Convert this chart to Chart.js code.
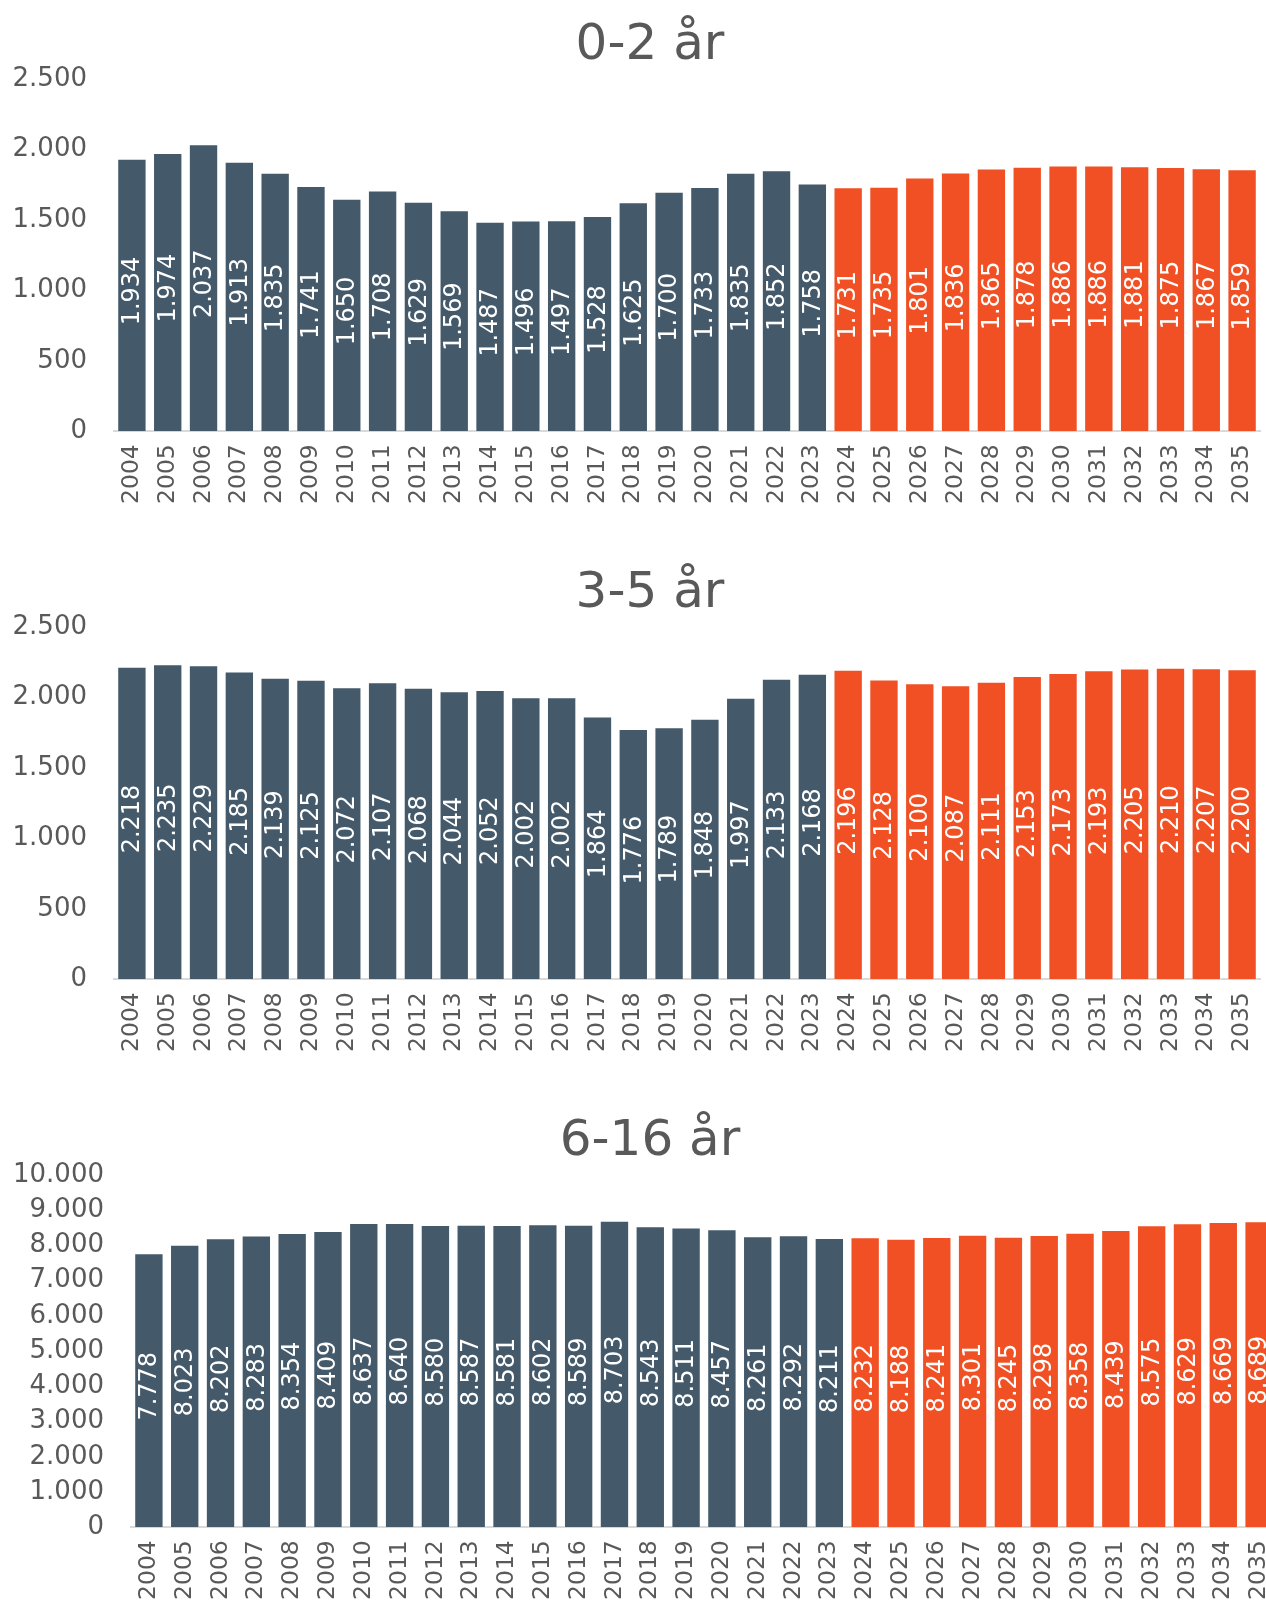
<!DOCTYPE html>
<html>
<head>
<meta charset="utf-8">
<script src="https://cdn.jsdelivr.net/npm/chart.js@4"></script>
<style>
  html, body { margin: 0; padding: 0; background: #fff; overflow: hidden; width: 1266px; height: 1602px; }
  .wrap { width: 1266px; height: 548px; overflow: hidden; position: relative; }
  canvas { display: block; }
</style>
</head>
<body>
<div class="wrap"><canvas id="c1" width="1266" height="548"></canvas></div>
<div class="wrap"><canvas id="c2" width="1266" height="548"></canvas></div>
<div class="wrap" style="height:506px"><canvas id="c3" width="1283" height="548"></canvas></div>
<script>
// ---- data ----
const years = ['2004','2005','2006','2007','2008','2009','2010','2011','2012','2013','2014','2015','2016','2017','2018','2019','2020','2021','2022','2023','2024','2025','2026','2027','2028','2029','2030','2031','2032','2033','2034','2035'];
const firstForecastYear = '2024';

const titles = ['0-2 år', '3-5 år', '6-16 år'];

const age0to2 = [1934,1974,2037,1913,1835,1741,1650,1708,1629,1569,1487,1496,1497,1528,1625,1700,1733,1835,1852,1758,1731,1735,1801,1836,1865,1878,1886,1886,1881,1875,1867,1859];
const age3to5 = [2218,2235,2229,2185,2139,2125,2072,2107,2068,2044,2052,2002,2002,1864,1776,1789,1848,1997,2133,2168,2196,2128,2100,2087,2111,2153,2173,2193,2205,2210,2207,2200];
const age6to16 = [7778,8023,8202,8283,8354,8409,8637,8640,8580,8587,8581,8602,8589,8703,8543,8511,8457,8261,8292,8211,8232,8188,8241,8301,8245,8298,8358,8439,8575,8629,8669,8689];

const yMax = [2500, 2500, 10000];
const yStep = [500, 500, 1000];

// ---- style ----
const histColor = '#44596A';
const foreColor = '#F05023';
const textColor = '#595959';
const fontFamily = '"DejaVu Sans", Verdana, sans-serif';
const titleCenterX = 650;

function fmt(v) {
  return String(Math.round(v)).replace(/\B(?=(\d{3})+(?!\d))/g, '.');
}

const titleShift = {
  id: 'titleShift',
  afterLayout(chart) {
    const t = chart.titleBlock;
    if (t) { t.left = 2 * titleCenterX - t.right; }
  }
};

const barLabels = {
  id: 'barLabels',
  afterDatasetsDraw(chart) {
    const ctx = chart.ctx;
    const meta = chart.getDatasetMeta(0);
    const data = chart.data.datasets[0].data;
    ctx.save();
    ctx.fillStyle = '#ffffff';
    ctx.font = '24px ' + fontFamily;
    ctx.textAlign = 'center';
    ctx.textBaseline = 'middle';
    meta.data.forEach((bar, i) => {
      const p = bar.getProps(['x', 'y', 'base'], true);
      ctx.save();
      ctx.translate(p.x + 1, (p.y + p.base) / 2 - 4);
      ctx.rotate(-Math.PI / 2);
      ctx.fillText(fmt(data[i]), 0, 0);
      ctx.restore();
    });
    ctx.restore();
  }
};

function makeChart(id, title, values, max, step, yWidth) {
  const fIdx = years.indexOf(firstForecastYear);
  const colors = years.map((y, i) => i >= fIdx ? foreColor : histColor);
  new Chart(document.getElementById(id), {
    type: 'bar',
    data: {
      labels: years,
      datasets: [{
        data: values,
        backgroundColor: colors,
        borderColor: 'rgba(255,255,255,0.55)',
        borderWidth: 1,
        barPercentage: 0.82,
        categoryPercentage: 1.0
      }]
    },
    options: {
      responsive: false,
      animation: false,
      events: [],
      layout: { padding: { left: 12, right: 6, top: 0, bottom: 31 } },
      plugins: {
        legend: { display: false },
        tooltip: { enabled: false },
        title: {
          display: true,
          text: title,
          color: textColor,
          font: { family: fontFamily, size: 50, weight: 'normal' },
          padding: { top: 16, bottom: 3 }
        }
      },
      scales: {
        x: {
          grid: { display: false, drawTicks: false },
          border: { display: true, color: '#D9D9D9', width: 2 },
          afterFit: (s) => { s.paddingLeft = 0; s.paddingRight = 0; },
          ticks: {
            color: textColor,
            font: { family: fontFamily, size: 23.5 },
            minRotation: 90,
            maxRotation: 90,
            autoSkip: false,
            padding: 13
          }
        },
        y: {
          min: 0,
          max: max,
          grid: { display: false, drawTicks: false },
          border: { display: false },
          afterFit: (s) => { s.width = yWidth; },
          ticks: {
            stepSize: step,
            autoSkip: false,
            color: textColor,
            font: { family: fontFamily, size: 26 },
            padding: 27,
            callback: (v) => fmt(v)
          }
        }
      }
    },
    plugins: [titleShift, barLabels]
  });
}

makeChart('c1', titles[0], age0to2, yMax[0], yStep[0], 102);
makeChart('c2', titles[1], age3to5, yMax[1], yStep[1], 102);
makeChart('c3', titles[2], age6to16, yMax[2], yStep[2], 119);
</script>
</body>
</html>
